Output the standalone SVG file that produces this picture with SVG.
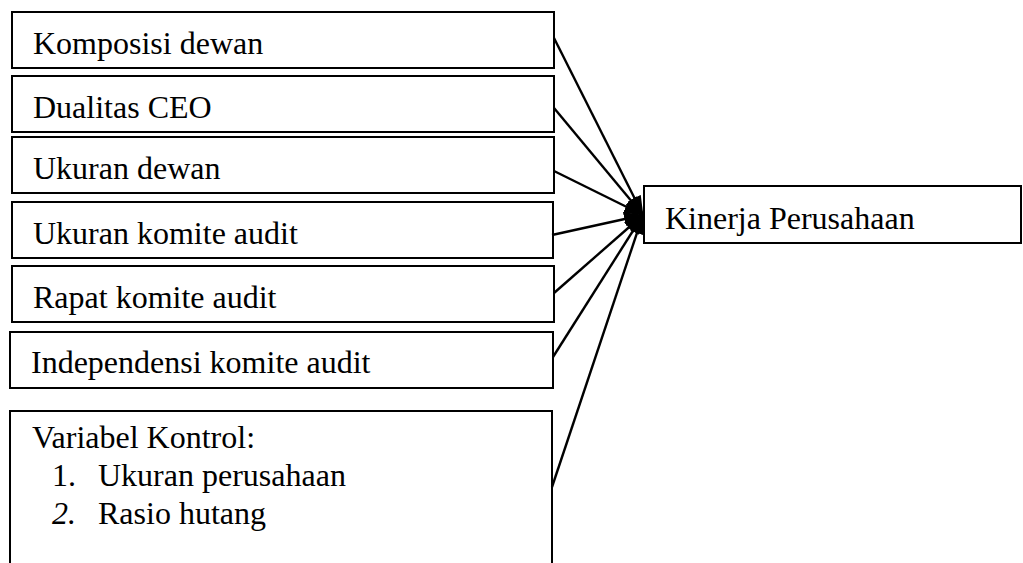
<svg xmlns="http://www.w3.org/2000/svg" width="1023" height="563" viewBox="0 0 1023 563">
  <style>
    .box { fill: #ffffff; stroke: #000000; stroke-width: 2; }
    .lbl { font-family: "Liberation Serif", "Times New Roman", serif; font-size: 32px; fill: #000000; }
    .edge { stroke: #000000; stroke-width: 2.4; fill: none; marker-end: url(#arrow); }
  </style>
  <defs>
    <marker id="arrow" markerUnits="userSpaceOnUse" markerWidth="20" markerHeight="14" refX="19" refY="7" orient="auto">
      <path d="M0,0 L20,7 L0,14 Z" fill="#000000"/>
    </marker>
  </defs>

  <rect width="1023" height="563" fill="#ffffff"/>

  <!-- independent variables -->
  <g id="komposisi-dewan">
    <rect class="box" x="12" y="12" width="542" height="56"/>
    <text class="lbl" x="33" y="54">Komposisi dewan</text>
  </g>
  <g id="dualitas-ceo">
    <rect class="box" x="12" y="76" width="542" height="56"/>
    <text class="lbl" x="33" y="118">Dualitas CEO</text>
  </g>
  <g id="ukuran-dewan">
    <rect class="box" x="12" y="137" width="542" height="56"/>
    <text class="lbl" x="33" y="179">Ukuran dewan</text>
  </g>
  <g id="ukuran-komite-audit">
    <rect class="box" x="12" y="202" width="541" height="56"/>
    <text class="lbl" x="33" y="244">Ukuran komite audit</text>
  </g>
  <g id="rapat-komite-audit">
    <rect class="box" x="12" y="266" width="542" height="56"/>
    <text class="lbl" x="33" y="308">Rapat komite audit</text>
  </g>
  <g id="independensi-komite-audit">
    <rect class="box" x="10" y="332" width="543" height="56"/>
    <text class="lbl" x="31" y="373">Independensi komite audit</text>
  </g>

  <!-- control variables (box runs past the bottom edge) -->
  <g id="variabel-kontrol">
    <path class="box" d="M10,570 V411 H552 V570"/>
    <text class="lbl" x="32" y="448">Variabel Kontrol:</text>
    <text class="lbl" x="52" y="486">1.</text>
    <text class="lbl" x="98" y="486">Ukuran perusahaan</text>
    <text class="lbl" x="52" y="524" font-style="italic">2.</text>
    <text class="lbl" x="98" y="524">Rasio hutang</text>
  </g>

  <!-- dependent variable -->
  <g id="kinerja-perusahaan">
    <rect class="box" x="644" y="186" width="377" height="57"/>
    <text class="lbl" x="665" y="229">Kinerja Perusahaan</text>
  </g>

  <!-- connectors -->
  <g id="connectors">
    <line class="edge" x1="554" y1="38" x2="643" y2="215"/>
    <line class="edge" x1="554" y1="108" x2="643" y2="215"/>
    <line class="edge" x1="554" y1="171" x2="643" y2="215"/>
    <line class="edge" x1="552" y1="235" x2="643" y2="215"/>
    <line class="edge" x1="554" y1="293" x2="643" y2="215"/>
    <line class="edge" x1="553" y1="357" x2="643" y2="215"/>
    <line class="edge" x1="552" y1="487" x2="643" y2="215"/>
  </g>
</svg>
